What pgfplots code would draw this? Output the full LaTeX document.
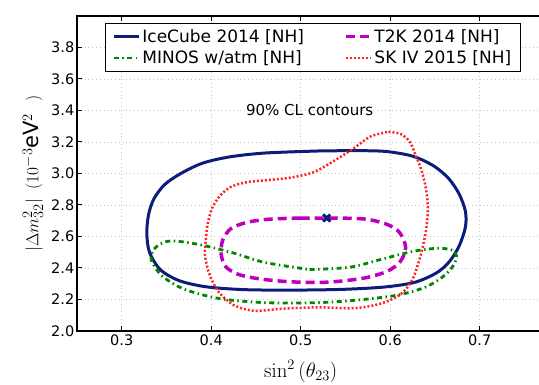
\documentclass[border=0pt]{standalone}
\usepackage[no-math]{fontspec}
\setmainfont{DejaVu Sans}
\usepackage{pgfplots}
\pgfplotsset{compat=1.18}

\definecolor{icnavy}{RGB}{12,28,122}
\definecolor{minosgreen}{RGB}{0,135,0}
\definecolor{tkmagenta}{RGB}{190,0,190}
\definecolor{skred}{RGB}{255,35,35}

\begin{document}
\begin{tikzpicture}
\useasboundingbox (-77pt,-54pt) rectangle (462pt,331pt);
\clip (-77pt,-54pt) rectangle (462pt,331pt);
\begin{axis}[
  scale only axis,
  width=492.25pt, height=315pt,
  xmin=0.25, xmax=0.8, ymin=2.0, ymax=4.0,
  xtick={0.3,0.4,0.5,0.6,0.7},
  ytick={2.0,2.2,2.4,2.6,2.8,3.0,3.2,3.4,3.6,3.8},
  xticklabel style={/pgf/number format/.cd, fixed, precision=1, zerofill},
  yticklabel style={inner xsep=2.5pt, /pgf/number format/.cd, fixed, precision=1, zerofill},
  /pgf/number format/assume math mode=true,
  tick label style={font=\fontsize{14.5}{17}\selectfont},
  tick align=inside, tick pos=both,
  major tick length=5pt,
  tick style={black, line width=1pt},
  axis line style={line width=1.4pt},
  grid=major,
  grid style={gray!45, line width=0.6pt, dash pattern=on 0.8pt off 3pt},
  xlabel={$\sin^2\,(\theta_{23})$},
  ylabel={$|\Delta m^2_{32}|$\hspace{10pt}$(10^{-3}$\mbox{\fontsize{21}{24}\selectfont eV}$^2$\hspace{12pt}$)$},
  xlabel style={at={(axis description cs:0.4545,0)}, anchor=north, inner sep=0pt, yshift=-29pt, font=\fontsize{20}{24}\selectfont},
  ylabel style={at={(axis description cs:-0.0894,0.5)}, anchor=center, rotate=0, inner sep=0pt, font=\fontsize{19}{22}\selectfont},
  legend columns=2,
  legend cell align=left,
  legend image code/.code={\draw[#1] (0pt,0pt) -- (25pt,0pt);},
  legend style={at={(axis description cs:0.0569,0.978)}, anchor=north west,
    draw=black, line width=0.8pt, fill=white,
    font=\fontsize{17}{20}\selectfont,
    inner xsep=7pt, inner ysep=4pt, row sep=3pt,
    /tikz/every even column/.append style={column sep=38pt}},
]

% IceCube 2014, normal hierarchy
\addplot[icnavy, line width=3pt, smooth] coordinates {
 (0.52,3.143) (0.56,3.145) (0.595,3.14) (0.625,3.11) (0.648,3.05) (0.665,2.97)
 (0.677,2.87) (0.684,2.76) (0.684,2.66) (0.677,2.54) (0.666,2.44) (0.652,2.37)
 (0.628,2.31) (0.595,2.28) (0.55,2.265) (0.50,2.26) (0.44,2.262) (0.395,2.28)
 (0.364,2.32) (0.343,2.39) (0.331,2.50) (0.328,2.62) (0.330,2.74) (0.336,2.84)
 (0.348,2.93) (0.366,3.00) (0.39,3.065) (0.42,3.105) (0.46,3.13) (0.52,3.143)
};
\addlegendentry{IceCube 2014 [NH]}

% T2K 2014, normal hierarchy
\addplot[tkmagenta, line width=3.5pt, dash pattern=on 9pt off 5pt, smooth] coordinates {
 (0.50,2.717) (0.54,2.717) (0.573,2.71) (0.595,2.68) (0.608,2.64) (0.615,2.58)
 (0.617,2.515) (0.611,2.44) (0.597,2.38) (0.57,2.335) (0.53,2.31) (0.49,2.312)
 (0.455,2.33) (0.43,2.36) (0.416,2.41) (0.411,2.49) (0.413,2.58) (0.422,2.65)
 (0.44,2.69) (0.465,2.71) (0.50,2.717)
};
\addlegendentry{T2K 2014 [NH]}

% MINOS with atmospheric data, normal hierarchy
\addplot[minosgreen, line width=2.8pt, dash pattern=on 5pt off 3.5pt on 1.5pt off 3.5pt, smooth] coordinates {
 (0.51,2.39) (0.555,2.405) (0.59,2.455) (0.625,2.505) (0.652,2.525) (0.668,2.515)
 (0.674,2.48) (0.671,2.42) (0.660,2.35) (0.640,2.28) (0.61,2.23) (0.57,2.20)
 (0.52,2.18) (0.46,2.18) (0.41,2.205) (0.37,2.265) (0.345,2.35) (0.333,2.45)
 (0.336,2.52) (0.348,2.565) (0.362,2.57) (0.39,2.545) (0.425,2.495) (0.46,2.435)
 (0.51,2.39)
};
\addlegendentry{MINOS w/atm [NH]}

% Super-Kamiokande IV 2015, normal hierarchy
\addplot[skred, line width=2.5pt, dash pattern=on 2pt off 2pt, smooth] coordinates {
 (0.598,3.265) (0.612,3.25) (0.622,3.20) (0.628,3.12) (0.635,3.02) (0.640,2.90)
 (0.642,2.78) (0.640,2.64) (0.634,2.48) (0.625,2.33) (0.612,2.235) (0.59,2.175)
 (0.56,2.145) (0.52,2.15) (0.48,2.142) (0.448,2.128) (0.425,2.165) (0.408,2.25)
 (0.398,2.36) (0.393,2.48) (0.394,2.58) (0.396,2.68) (0.401,2.78) (0.41,2.86)
 (0.422,2.915) (0.44,2.945) (0.467,2.96) (0.49,2.975) (0.515,3.01) (0.54,3.09)
 (0.56,3.163) (0.578,3.235) (0.598,3.265)
};
\addlegendentry{SK IV 2015 [NH]}

% IceCube best fit
\addplot[icnavy, only marks, mark=x, mark size=5pt, line width=3pt, forget plot]
 coordinates {(0.529,2.717)};

\node[font=\fontsize{15}{18}\selectfont] at (axis cs:0.51,3.40) {90\% CL contours};
\end{axis}
\end{tikzpicture}
\end{document}
